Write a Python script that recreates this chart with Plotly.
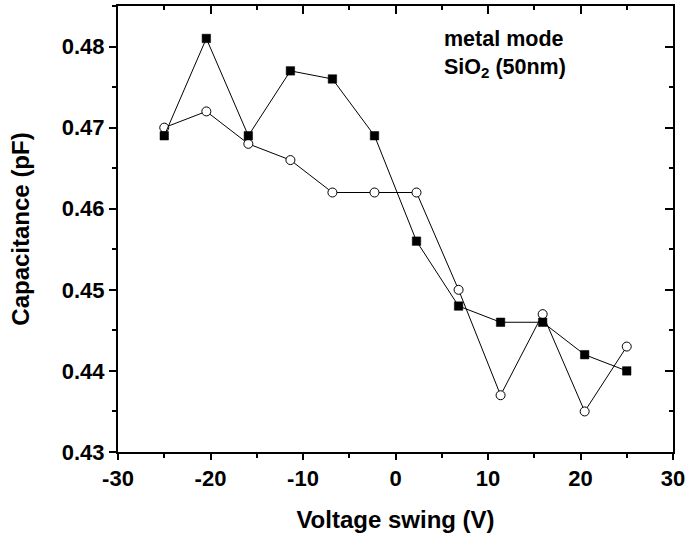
import plotly.graph_objects as go

# Data
voltage = [-25, -20.45, -15.91, -11.36, -6.82, -2.27, 2.27, 6.82, 11.36, 15.91, 20.45, 25]
cap_square = [0.469, 0.481, 0.469, 0.477, 0.476, 0.469, 0.456, 0.448, 0.446, 0.446, 0.442, 0.440]
cap_circle = [0.470, 0.472, 0.468, 0.466, 0.462, 0.462, 0.462, 0.450, 0.437, 0.447, 0.435, 0.443]

x_ticks = [-30, -20, -10, 0, 10, 20, 30]
y_ticks = [0.43, 0.44, 0.45, 0.46, 0.47, 0.48]

FONT = "Liberation Sans, Arial, sans-serif"

fig = go.Figure()
fig.add_trace(go.Scatter(
    x=voltage, y=cap_circle, mode="lines+markers",
    line=dict(color="black", width=1),
    marker=dict(symbol="circle", size=9, color="white", line=dict(color="black", width=1)),
    showlegend=False,
))
fig.add_trace(go.Scatter(
    x=voltage, y=cap_square, mode="lines+markers",
    line=dict(color="black", width=1),
    marker=dict(symbol="square", size=8.5, color="black", line=dict(color="black", width=0.5)),
    showlegend=False,
))
# invisible trace to activate the mirrored top/right axes
fig.add_trace(go.Scatter(x=[None], y=[None], xaxis="x2", yaxis="y2", showlegend=False, hoverinfo="skip"))

tickfont = dict(family=FONT, size=22, color="black", weight="bold")
titlefont = dict(family=FONT, size=24, color="black", weight="bold")

fig.update_layout(
    width=691, height=539,
    margin=dict(l=118, r=16, t=6, b=87),
    paper_bgcolor="white", plot_bgcolor="white",
    xaxis=dict(
        range=[-30, 30], tickvals=x_ticks, ticktext=[str(v) for v in x_ticks],
        ticks="outside", ticklen=6, tickwidth=2, tickcolor="black",
        minor=dict(ticks="outside", ticklen=4, tickwidth=2, tickcolor="black", dtick=5, tick0=0),
        showline=True, linewidth=2, linecolor="black", showgrid=False, zeroline=False,
        tickfont=tickfont,
        title=dict(text="Voltage swing (V)", font=titlefont, standoff=21),
    ),
    yaxis=dict(
        range=[0.43, 0.485], tickvals=y_ticks, ticktext=[f"{v:.2f}" for v in y_ticks],
        ticks="outside", ticklen=7, tickwidth=2, tickcolor="black",
        minor=dict(ticks="outside", ticklen=4, tickwidth=2, tickcolor="black", dtick=0.005, tick0=0.43),
        showline=True, linewidth=2, linecolor="black", showgrid=False, zeroline=False,
        tickfont=tickfont,
        title=dict(text="Capacitance (pF)", font=titlefont, standoff=25),
    ),
    xaxis2=dict(
        overlaying="x", side="top", matches="x", range=[-30, 30], tickvals=x_ticks,
        ticks="inside", ticklen=8, tickwidth=2, tickcolor="black",
        minor=dict(ticks="inside", ticklen=4, tickwidth=2, tickcolor="black", dtick=5, tick0=0),
        showticklabels=False, showline=True, linewidth=2, linecolor="black",
        showgrid=False, zeroline=False,
    ),
    yaxis2=dict(
        overlaying="y", side="right", matches="y", range=[0.43, 0.485], tickvals=y_ticks,
        ticks="inside", ticklen=8, tickwidth=2, tickcolor="black",
        minor=dict(ticks="inside", ticklen=4, tickwidth=2, tickcolor="black", dtick=0.005, tick0=0.43),
        showticklabels=False, showline=True, linewidth=2, linecolor="black",
        showgrid=False, zeroline=False,
    ),
    annotations=[dict(
        text="metal mode<br>SiO<sub>2</sub> (50nm)",
        xref="paper", yref="paper", x=0.583, y=0.958,
        xanchor="left", yanchor="top", align="left", showarrow=False,
        font=dict(family=FONT, size=21.5, color="black", weight="bold"),
    )],
)

fig.write_html("out.html")
